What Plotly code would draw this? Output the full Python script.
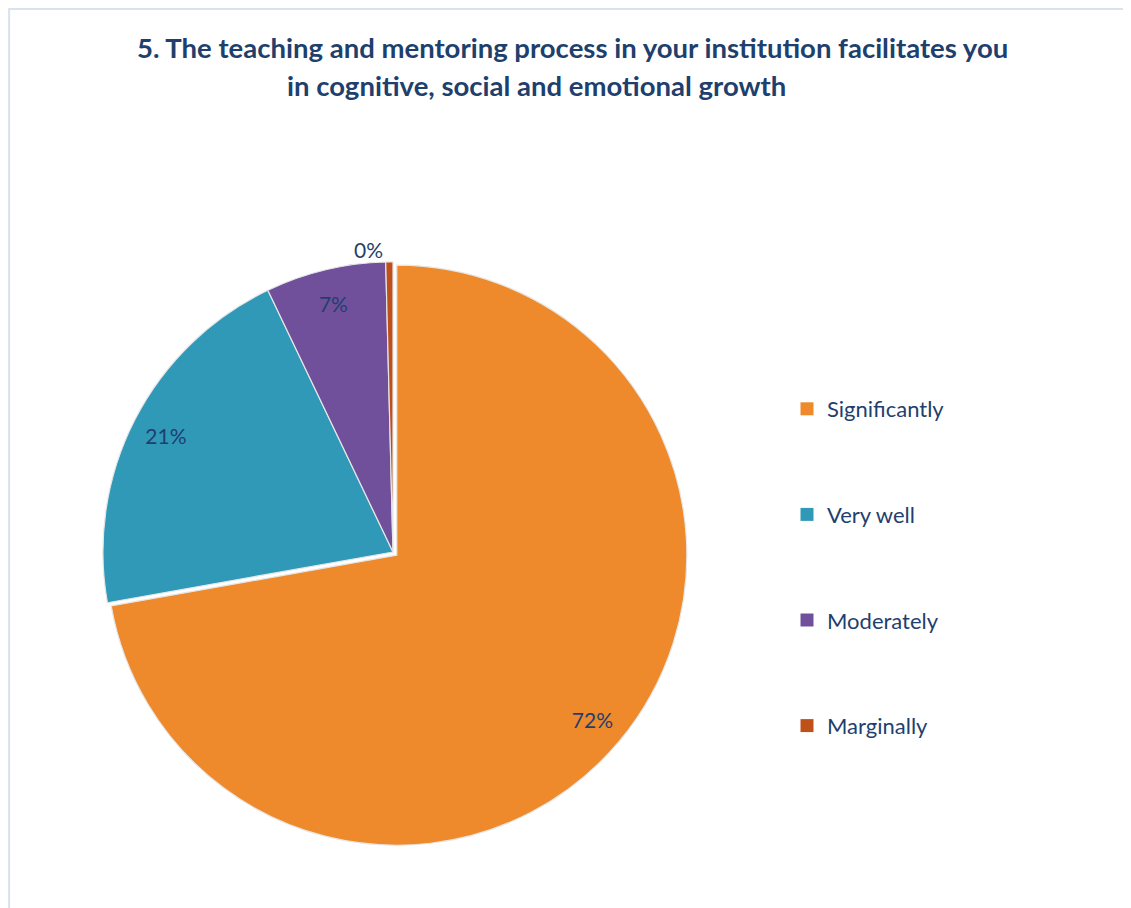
import plotly.graph_objects as go

categories = ["Significantly", "Very well", "Moderately", "Marginally"]
values = [72.2, 20.7, 6.7, 0.4]
colors = ["#EE8A2B", "#3199B8", "#70509A", "#C0501A"]
title_line1 = "5. The teaching and mentoring process in your institution facilitates you"
title_line2 = "in cognitive, social and emotional growth"

# page body has an 8px default margin; figure is sized/positioned to compensate
OFF = 8
W, H = 1123, 900
def px(x):
    return (x - OFF) / W
def py(y):
    return 1 - (y - OFF) / H

navy = "#1F3F6E"
dom = dict(x=[px(98), px(688)], y=[py(847), py(257)])
pulls = [0.017, 0, 0, 0]

fig = go.Figure()
fig.add_trace(go.Pie(
    labels=categories, values=values, sort=False, direction="clockwise", rotation=0,
    marker=dict(colors=colors, line=dict(color="#E6E6E6", width=1.2)),
    pull=pulls, textinfo="none", showlegend=False, domain=dom,
))
# transparent ring overlay carrying the percentage labels (places them near the rim)
fig.add_trace(go.Pie(
    labels=categories, values=values, sort=False, direction="clockwise", rotation=0,
    hole=0.76, marker=dict(colors=["rgba(0,0,0,0)"] * 4, line=dict(width=0)),
    pull=pulls, textinfo="percent", texttemplate="%{percent:.0%}",
    textposition=["inside", "inside", "inside", "outside"],
    insidetextorientation="horizontal",
    textfont=dict(family="Lato", size=21, color=navy),
    showlegend=False, hoverinfo="skip", domain=dom,
))

for i, (c, col) in enumerate(zip(categories, colors)):
    fig.add_trace(go.Scatter(
        x=[None], y=[None], mode="markers", name=c, legendgroup=f"g{i}",
        marker=dict(symbol="square", size=13, color=col),
    ))

fig.update_layout(
    width=W, height=H, margin=dict(l=0, r=0, t=0, b=0),
    paper_bgcolor="white", plot_bgcolor="white",
    xaxis=dict(visible=False), yaxis=dict(visible=False),
    legend=dict(x=px(787), y=py(388), xanchor="left", yanchor="top",
                font=dict(family="Lato", size=22, color=navy),
                tracegroupgap=74, traceorder="grouped", bgcolor="rgba(0,0,0,0)"),
    annotations=[
        dict(text=f"<b>{title_line1}</b>", x=px(572), y=py(48), xref="paper", yref="paper",
             xanchor="center", yanchor="middle", showarrow=False,
             font=dict(family="Lato", size=27.5, color="#203F6C")),
        dict(text=f"<b>{title_line2}</b>", x=px(536), y=py(85), xref="paper", yref="paper",
             xanchor="center", yanchor="middle", showarrow=False,
             font=dict(family="Lato", size=27.5, color="#203F6C")),
    ],
    shapes=[dict(type="rect", xref="paper", yref="paper", x0=0.001, x1=1.01,
                 y0=-0.01, y1=0.999, line=dict(color="#D9E2EF", width=2))],
)

fig.write_html("out.html")
